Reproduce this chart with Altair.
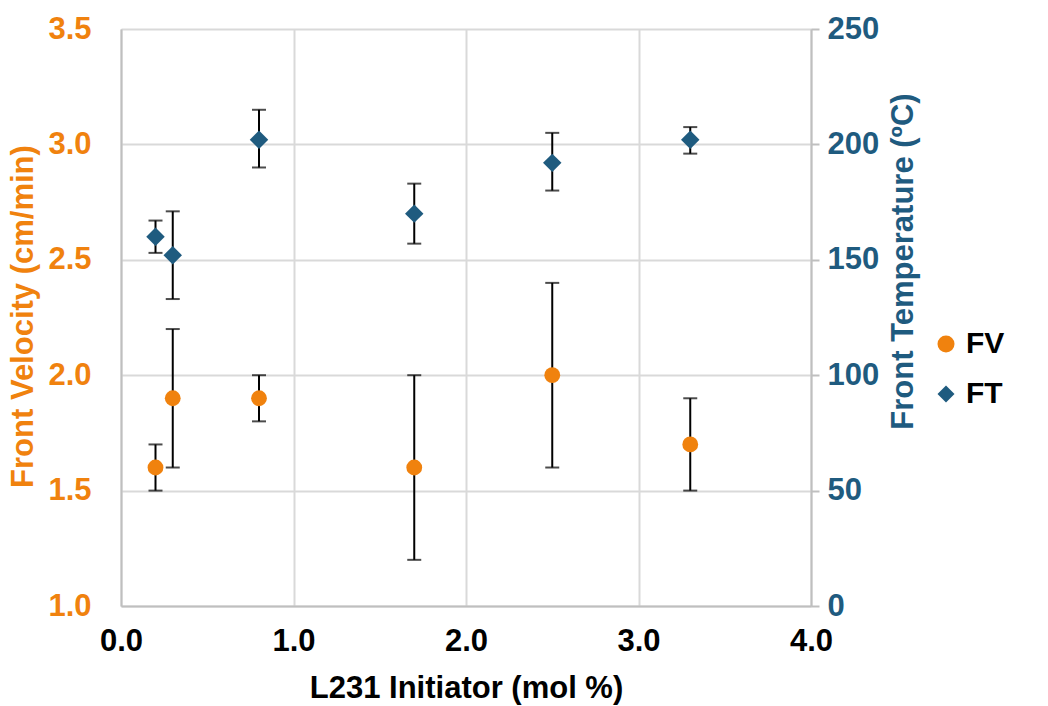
import altair as alt
import pandas as pd

x_vals = [0.2, 0.3, 0.8, 1.7, 2.5, 3.3]
fv = [1.6, 1.9, 1.9, 1.6, 2.0, 1.7]
fv_lo = [1.5, 1.6, 1.8, 1.2, 1.6, 1.5]
fv_hi = [1.7, 2.2, 2.0, 2.0, 2.4, 1.9]
ft = [160, 152, 202, 170, 192, 202]
ft_lo = [153, 133, 190, 157, 180, 196]
ft_hi = [167, 171, 215, 183, 205, 207.5]

ORANGE = "#F0820E"
BLUE = "#1F5B7F"
FONT = "Liberation Sans"
FS = 31

fv_df = pd.DataFrame({"x": x_vals, "v": fv, "lo": fv_lo, "hi": fv_hi, "s": ["FV"] * 6})
ft_df = pd.DataFrame({"x": x_vals, "v": ft, "lo": ft_lo, "hi": ft_hi, "s": ["FT"] * 6})

x_axis = alt.Axis(values=[0, 1, 2, 3, 4], format=".1f", title="L231 Initiator (mol %)",
                  labelFontSize=FS, labelFontWeight="bold", labelColor="black", labelFlush=False,
                  titleFontSize=FS, titleFontWeight="bold", titleColor="black",
                  labelPadding=20, titleBaseline="alphabetic", titleY=91, ticks=False,
                  domainColor="#bfbfbf", domainWidth=2, gridColor="#d9d9d9", gridWidth=2)
x_scale = alt.Scale(domain=[0, 4])

color_scale = alt.Scale(domain=["FV", "FT"], range=[ORANGE, BLUE])
shape_scale = alt.Scale(domain=["FV", "FT"], range=["circle", "diamond"])

fv_scale = alt.Scale(domain=[1.0, 3.5])
ft_scale = alt.Scale(domain=[0, 250])

legend = alt.Legend(title=None, orient="none", legendX=810, legendY=300,
                    labelFontSize=30, labelFontWeight="bold", labelColor="black", labelFont=FONT,
                    symbolSize=290, rowPadding=20, symbolStrokeWidth=0, labelOffset=5)

def layer_for(df, scale, axis, size):
    base = alt.Chart(df)
    X = alt.X("x:Q", scale=x_scale, axis=x_axis)
    rule = base.mark_rule(color="black", strokeWidth=2).encode(
        x=X, y=alt.Y("lo:Q", scale=scale, axis=axis), y2="hi:Q")
    cap_lo = base.mark_tick(color="black", thickness=2, size=14, orient="horizontal").encode(
        x=X, y=alt.Y("lo:Q", scale=scale, axis=axis))
    cap_hi = base.mark_tick(color="black", thickness=2, size=14, orient="horizontal").encode(
        x=X, y=alt.Y("hi:Q", scale=scale, axis=axis))
    pts = base.mark_point(filled=True, opacity=1, size=size).encode(
        x=X, y=alt.Y("v:Q", scale=scale, axis=axis),
        color=alt.Color("s:N", scale=color_scale, legend=legend),
        shape=alt.Shape("s:N", scale=shape_scale, legend=legend))
    return alt.layer(rule, cap_lo, cap_hi, pts)

fv_axis = alt.Axis(orient="left", values=[1.0, 1.5, 2.0, 2.5, 3.0, 3.5], format=".1f",
                   title="Front Velocity (cm/min)", labelFontSize=FS, labelFontWeight="bold",
                   labelColor=ORANGE, titleFontSize=FS, titleFontWeight="bold", titleColor=ORANGE,
                   titleAngle=270, titleAlign="center", titleBaseline="alphabetic",
                   titleX=-89, titleY=287,
                   labelPadding=30, ticks=False, domainColor="#bfbfbf",
                   domainWidth=2, gridColor="#d9d9d9", gridWidth=2)
ft_axis = alt.Axis(orient="right", values=[0, 50, 100, 150, 200, 250], format="d",
                   title="Front Temperature (ºC)", labelFontSize=FS, labelFontWeight="bold",
                   labelColor=BLUE, titleFontSize=FS, titleFontWeight="bold", titleColor=BLUE,
                   titleAngle=270, titleAlign="center", titleBaseline="alphabetic",
                   titleX=101, titleY=232,
                   labelPadding=8, ticks=True, tickSize=8, tickColor="#bfbfbf", tickWidth=2,
                   domainColor="#bfbfbf", domainWidth=2, grid=False)

left = layer_for(fv_df, fv_scale, fv_axis, 250)
right = layer_for(ft_df, ft_scale, ft_axis, 340)

chart = alt.layer(left, right).resolve_scale(y="independent").properties(
    width=690, height=577,
    autosize=alt.AutoSizeParams(type="none"),
    padding={"left": 121, "top": 29, "right": 237, "bottom": 100},
).configure_view(strokeWidth=0, stroke="transparent").configure(font=FONT)

chart.save("out.html", embed_options={"renderer": "svg", "actions": False})
